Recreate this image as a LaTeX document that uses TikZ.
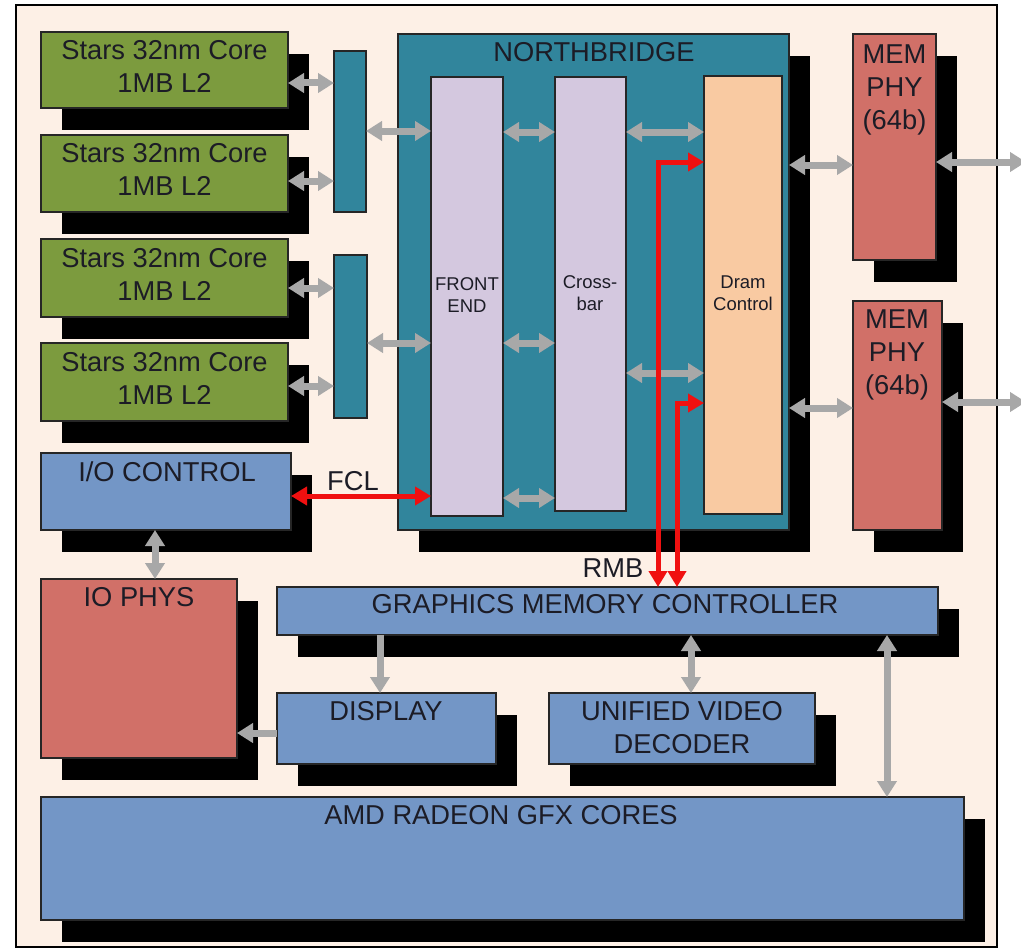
\documentclass[tikz,border=0pt]{standalone}
\usepackage{fontspec}
\setmainfont{Liberation Sans}
\usetikzlibrary{arrows.meta,shadows}
\definecolor{framefill}{HTML}{FDF0E6}
\definecolor{coregreen}{HTML}{7C9B3E}
\definecolor{nbteal}{HTML}{31859C}
\definecolor{lav}{HTML}{D4C8DF}
\definecolor{dramc}{HTML}{F9CAA2}
\definecolor{phyred}{HTML}{D17068}
\definecolor{blk}{HTML}{7396C6}
\definecolor{agray}{HTML}{A8A8A8}
\definecolor{rarr}{HTML}{F01010}
\definecolor{txt}{HTML}{1C1C26}
\begin{document}
\begin{tikzpicture}[x=1pt,y=-1pt,
  plainbox/.style={draw=black!85,line width=1.2pt,anchor=north west,inner sep=0pt,outer sep=0pt},
  box/.style={plainbox,drop shadow={shadow xshift=21pt,shadow yshift=-22pt,opacity=1,fill=black}},
  lbl/.style={font=\fontsize{27.3}{33}\selectfont,text=txt,align=center,inner sep=0pt},
  smalllbl/.style={font=\fontsize{18.5}{22}\selectfont,text=txt,align=center,inner sep=0pt},
  garrow/.style={draw=agray,line width=7pt,arrows={Triangle[length=16pt,width=19pt]-Triangle[length=16pt,width=19pt]}},
  gsingle/.style={draw=agray,line width=7pt,arrows={-Triangle[length=16pt,width=19pt]}},
  rarrow/.style={draw=rarr,line width=5pt,arrows={Triangle[length=16pt,width=18pt]-Triangle[length=16pt,width=18pt]}}
]
\useasboundingbox (0,0) rectangle (1021,950);
\fill[white] (0,0) rectangle (1021,950);
\draw[line width=2.5pt,fill=framefill] (16,5) rectangle (997,947);

% cores
\node[box,fill=coregreen,minimum width=247pt,minimum height=76pt] (core1) at (41,32) {};
\node[box,fill=coregreen,minimum width=247pt,minimum height=77pt] (core2) at (41,135) {};
\node[box,fill=coregreen,minimum width=247pt,minimum height=78pt] (core3) at (41,239) {};
\node[box,fill=coregreen,minimum width=247pt,minimum height=78pt] (core4) at (41,343) {};
\node[lbl] (core1t) at (164.5,66.5) {Stars 32nm Core\\1MB L2};
\node[lbl] (core2t) at (164.5,169.5) {Stars 32nm Core\\1MB L2};
\node[lbl] (core3t) at (164.5,274) {Stars 32nm Core\\1MB L2};
\node[lbl] (core4t) at (164.5,378) {Stars 32nm Core\\1MB L2};

% small bars
\node[plainbox,fill=nbteal,minimum width=32pt,minimum height=161pt] (bar1) at (334,51) {};
\node[plainbox,fill=nbteal,minimum width=33pt,minimum height=163pt] (bar2) at (334,255) {};

% northbridge
\node[box,fill=nbteal,minimum width=391pt,minimum height=496pt] (nb) at (398,34) {};
\node[lbl] (nbt) at (594,52.5) {NORTHBRIDGE};
\node[plainbox,fill=lav,minimum width=72pt,minimum height=439pt] (fe) at (431,77) {};
\node[plainbox,fill=lav,minimum width=71pt,minimum height=434pt] (xbar) at (555,77) {};
\node[plainbox,fill=dramc,minimum width=78pt,minimum height=438pt] (dram) at (704,76) {};
\node[smalllbl] (fet) at (467,295.5) {FRONT\\END};
\node[smalllbl] (xbart) at (590,293) {Cross-\\bar};
\node[smalllbl] (dramt) at (743,293.5) {Dram\\Control};

% mem phys
\node[box,fill=phyred,minimum width=83pt,minimum height=226pt] (mp1) at (853,34) {};
\node[box,fill=phyred,minimum width=89pt,minimum height=229pt] (mp2) at (853,301) {};
\node[lbl] (mp1t) at (894.5,89.5) {MEM\\PHY\\(64b)};
\node[lbl] (mp2t) at (897,354.5) {MEM\\PHY\\(64b)};
\coordinate (out1) at (1026,162);
\coordinate (out2) at (1026,402);

% I/O
\node[box,fill=blk,minimum width=250pt,minimum height=77pt] (ioc) at (41,453) {};
\node[lbl] (ioct) at (167,471.5) {I/O CONTROL};
\node[lbl] (fcl) at (353,481) {FCL};
\node[box,fill=phyred,minimum width=196pt,minimum height=179pt] (iophy) at (41,579) {};
\node[lbl] (iophyt) at (139,597.5) {IO PHYS};

% graphics
\node[lbl] (rmb) at (613,568) {RMB};
\node[box,fill=blk,minimum width=661pt,minimum height=48pt] (gmc) at (277,587) {};
\node[lbl] (gmct) at (605,604) {GRAPHICS MEMORY CONTROLLER};
\node[box,fill=blk,minimum width=219pt,minimum height=71pt] (disp) at (277,693) {};
\node[lbl] (dispt) at (386,711) {DISPLAY};
\node[box,fill=blk,minimum width=266pt,minimum height=71pt] (uvd) at (549,693) {};
\node[lbl] (uvdt) at (682,727.5) {UNIFIED VIDEO\\DECODER};
\node[box,fill=blk,minimum width=923pt,minimum height=123pt] (amd) at (41,797) {};
\node[lbl] (amdt) at (501,815) {AMD RADEON GFX CORES};

% gray connectors
\draw[garrow] (core1.east |- 0,83) -- (bar1.west |- 0,83);
\draw[garrow] (core2.east |- 0,181) -- (bar1.west |- 0,181);
\draw[garrow] (core3.east |- 0,288) -- (bar2.west |- 0,288);
\draw[garrow] (core4.east |- 0,386) -- (bar2.west |- 0,386);
\draw[garrow] (bar1.east |- 0,131) -- (fe.west |- 0,131);
\draw[garrow] (bar2.east |- 0,343) -- (fe.west |- 0,343);
\draw[garrow] (fe.east |- 0,132) -- (xbar.west |- 0,132);
\draw[garrow] (fe.east |- 0,343) -- (xbar.west |- 0,343);
\draw[garrow] (fe.east |- 0,498) -- (xbar.west |- 0,498);
\draw[garrow] (xbar.east |- 0,132) -- (dram.west |- 0,132);
\draw[garrow] (xbar.east |- 0,373) -- (dram.west |- 0,373);
\draw[garrow] (nb.east |- 0,165) -- (mp1.west |- 0,165);
\draw[garrow] (nb.east |- 0,408) -- (mp2.west |- 0,408);
\draw[garrow] (mp1.east |- out1) -- (out1);
\draw[garrow] (mp2.east |- out2) -- (out2);
\draw[garrow] (ioc.south -| 155,0) -- (iophy.north -| 155,0);
\draw[gsingle] (gmc.south -| 380,0) -- (disp.north -| 380,0);
\draw[garrow] (gmc.south -| 691,0) -- (uvd.north -| 691,0);
\draw[garrow] (gmc.south -| 887,0) -- (amd.north -| 887,0);
\draw[gsingle] (disp.west |- 0,733) -- (iophy.east |- 0,733);

% red connectors
\draw[rarrow] (ioc.east |- 0,496) -- (fe.west |- 0,496);
\draw[rarrow] (gmc.north -| 658,0) |- (dram.west |- 0,162);
\draw[rarrow] (gmc.north -| 677,0) |- (dram.west |- 0,403);
\end{tikzpicture}
\end{document}
